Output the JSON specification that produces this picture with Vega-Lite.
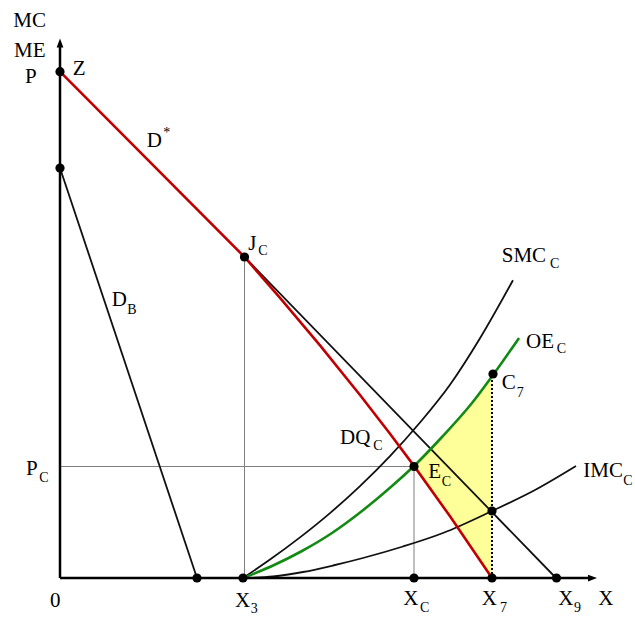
{
  "$schema": "https://vega.github.io/schema/vega-lite/v6.json",
  "width": 575,
  "height": 578,
  "autosize": {"type": "none"},
  "padding": {"left": 60, "top": 0, "right": 0, "bottom": 39},
  "background": "white",
  "config": {"view": {"stroke": null}},
  "datasets": {
    "fill": [
      {"x": 354, "y": 112.1, "y2": 112.1},
      {"x": 370, "y": 89.7, "y2": 128.6},
      {"x": 382, "y": 72.9, "y2": 141},
      {"x": 390, "y": 61.7, "y2": 150},
      {"x": 412, "y": 30.3, "y2": 175},
      {"x": 432, "y": 0, "y2": 202}
    ],
    "segs": [
      {"s": "grid", "x": 184.5, "y": 0, "x2": 184.5, "y2": 321},
      {"s": "grid", "x": 0, "y": 111.5, "x2": 354, "y2": 111.5},
      {"s": "grid", "x": 354, "y": 0, "x2": 354, "y2": 111.5},
      {"s": "dot", "x": 432, "y": 0, "x2": 432, "y2": 204},
      {"s": "axis", "x": 0, "y": 0, "x2": 0, "y2": 532},
      {"s": "axis", "x": 0, "y": 0, "x2": 531, "y2": 0}
    ],
    "curves": [
      {"c": "Dstar", "x": 0, "y": 506.3},
      {"c": "Dstar", "x": 184.5, "y": 321},
      {"c": "Dstar", "x": 220, "y": 280.2},
      {"c": "Dstar", "x": 260, "y": 232.6},
      {"c": "Dstar", "x": 300, "y": 183},
      {"c": "Dstar", "x": 330, "y": 144.3},
      {"c": "Dstar", "x": 354, "y": 112.1},
      {"c": "Dstar", "x": 390, "y": 61.7},
      {"c": "Dstar", "x": 432, "y": 0},
      {"c": "D", "x": 184.5, "y": 321},
      {"c": "D", "x": 496, "y": 0},
      {"c": "DB", "x": 0, "y": 410},
      {"c": "DB", "x": 137, "y": 0},
      {"c": "SMC", "x": 183, "y": 0},
      {"c": "SMC", "x": 210, "y": 18.4},
      {"c": "SMC", "x": 240, "y": 40.6},
      {"c": "SMC", "x": 270, "y": 64.9},
      {"c": "SMC", "x": 300, "y": 91.9},
      {"c": "SMC", "x": 330, "y": 121.9},
      {"c": "SMC", "x": 360, "y": 155.5},
      {"c": "SMC", "x": 390, "y": 193.3},
      {"c": "SMC", "x": 420, "y": 239.8},
      {"c": "SMC", "x": 453, "y": 297.8},
      {"c": "IMC", "x": 183, "y": 0},
      {"c": "IMC", "x": 213, "y": 1.5},
      {"c": "IMC", "x": 243, "y": 6},
      {"c": "IMC", "x": 273, "y": 12.5},
      {"c": "IMC", "x": 303, "y": 20},
      {"c": "IMC", "x": 343, "y": 31.5},
      {"c": "IMC", "x": 383, "y": 45},
      {"c": "IMC", "x": 432, "y": 67},
      {"c": "IMC", "x": 475, "y": 88},
      {"c": "IMC", "x": 516, "y": 112},
      {"c": "OE", "x": 183, "y": 0},
      {"c": "OE", "x": 212, "y": 12},
      {"c": "OE", "x": 242, "y": 27},
      {"c": "OE", "x": 272, "y": 45},
      {"c": "OE", "x": 302, "y": 67},
      {"c": "OE", "x": 332, "y": 92},
      {"c": "OE", "x": 354, "y": 112},
      {"c": "OE", "x": 382, "y": 141},
      {"c": "OE", "x": 412, "y": 175},
      {"c": "OE", "x": 433, "y": 203},
      {"c": "OE", "x": 459, "y": 240}
    ],
    "arrows": [
      {"dir": "up", "x": 0, "y": 535},
      {"dir": "right", "x": 532.5, "y": 0}
    ],
    "points": [
      {"p": "Z", "x": 0, "y": 506.3},
      {"p": "DBtop", "x": 0, "y": 410},
      {"p": "DBbottom", "x": 137, "y": 0},
      {"p": "X3", "x": 183, "y": 0},
      {"p": "JC", "x": 184.5, "y": 321},
      {"p": "EC", "x": 354, "y": 111.5},
      {"p": "XC", "x": 354, "y": 0},
      {"p": "X7", "x": 432, "y": 0},
      {"p": "C7", "x": 433, "y": 204},
      {"p": "IMC7", "x": 432, "y": 67},
      {"p": "X9", "x": 496.5, "y": 0}
    ],
    "labels": [
      {"t": "MC", "x": -46.7, "y": 551.3},
      {"t": "ME", "x": -46, "y": 521.3},
      {"t": "P", "x": -35, "y": 494.7},
      {"t": "Z", "x": 12.7, "y": 503},
      {"t": "D", "x": 86.7, "y": 431.3},
      {"t": "J", "x": 188.3, "y": 328},
      {"t": "D", "x": 51.7, "y": 272},
      {"t": "SMC", "x": 441.7, "y": 316.3},
      {"t": "OE", "x": 466, "y": 229.7},
      {"t": "C", "x": 441.7, "y": 188.7},
      {"t": "DQ", "x": 280, "y": 134},
      {"t": "E", "x": 368.3, "y": 99.7},
      {"t": "IMC", "x": 523.3, "y": 101.3},
      {"t": "P", "x": -34, "y": 103},
      {"t": "0", "x": -10, "y": -28.7},
      {"t": "X", "x": 175, "y": -28.7},
      {"t": "X", "x": 343.3, "y": -27},
      {"t": "X", "x": 421.7, "y": -27},
      {"t": "X", "x": 498.3, "y": -27},
      {"t": "X", "x": 538.3, "y": -27}
    ],
    "subs": [
      {"t": "*", "x": 103.3, "y": 441},
      {"t": "C", "x": 198.3, "y": 323},
      {"t": "B", "x": 67.3, "y": 263.7},
      {"t": "C", "x": 490, "y": 309.7},
      {"t": "C", "x": 496.7, "y": 224.7},
      {"t": "7", "x": 456.7, "y": 181.3},
      {"t": "C", "x": 313.3, "y": 128},
      {"t": "C", "x": 381.7, "y": 92},
      {"t": "C", "x": 563.3, "y": 93},
      {"t": "C", "x": -20.7, "y": 96.3},
      {"t": "3", "x": 190.7, "y": -35.3},
      {"t": "C", "x": 360, "y": -33.7},
      {"t": "7", "x": 440, "y": -33.7},
      {"t": "9", "x": 514, "y": -33.7}
    ]
  },
  "encoding": {
    "x": {"field": "x", "type": "quantitative", "scale": {"domain": [0, 575], "nice": false, "zero": false}, "axis": null},
    "y": {"field": "y", "type": "quantitative", "scale": {"domain": [0, 578], "nice": false, "zero": false}, "axis": null}
  },
  "layer": [
    {
      "data": {"name": "fill"},
      "mark": {"type": "area", "color": "#ffff99", "opacity": 1},
      "encoding": {"y2": {"field": "y2"}}
    },
    {
      "data": {"name": "segs"},
      "transform": [{"filter": "datum.s === 'grid'"}],
      "mark": {"type": "rule", "color": "#7f7f7f", "strokeWidth": 1},
      "encoding": {"x2": {"field": "x2"}, "y2": {"field": "y2"}}
    },
    {
      "data": {"name": "segs"},
      "transform": [{"filter": "datum.s === 'dot'"}],
      "mark": {"type": "rule", "color": "#000000", "strokeWidth": 2, "strokeDash": [2, 2]},
      "encoding": {"x2": {"field": "x2"}, "y2": {"field": "y2"}}
    },
    {
      "data": {"name": "curves"},
      "transform": [{"filter": "datum.c === 'D' || datum.c === 'DB' || datum.c === 'SMC' || datum.c === 'IMC'"}],
      "mark": {"type": "line", "color": "#111111", "strokeWidth": 1.8, "interpolate": "monotone"},
      "encoding": {"detail": {"field": "c"}}
    },
    {
      "data": {"name": "curves"},
      "transform": [{"filter": "datum.c === 'OE'"}],
      "mark": {"type": "line", "color": "#138a13", "strokeWidth": 2.6, "interpolate": "monotone"},
      "encoding": {}
    },
    {
      "data": {"name": "curves"},
      "transform": [{"filter": "datum.c === 'Dstar'"}],
      "mark": {"type": "line", "color": "#c00000", "strokeWidth": 2.6, "interpolate": "linear"},
      "encoding": {}
    },
    {
      "data": {"name": "segs"},
      "transform": [{"filter": "datum.s === 'axis'"}],
      "mark": {"type": "rule", "color": "#000000", "strokeWidth": 2.5},
      "encoding": {"x2": {"field": "x2"}, "y2": {"field": "y2"}}
    },
    {
      "data": {"name": "arrows"},
      "transform": [{"filter": "datum.dir === 'up'"}],
      "mark": {"type": "point", "shape": "M0,-1L0.75,1L-0.75,1Z", "size": 81, "filled": true, "color": "#000000", "opacity": 1}
    },
    {
      "data": {"name": "arrows"},
      "transform": [{"filter": "datum.dir === 'right'"}],
      "mark": {"type": "point", "shape": "M1,0L-1,0.75L-1,-0.75Z", "size": 81, "filled": true, "color": "#000000", "opacity": 1}
    },
    {
      "data": {"name": "points"},
      "mark": {"type": "circle", "size": 85, "color": "#000000", "opacity": 1}
    },
    {
      "data": {"name": "labels"},
      "mark": {"type": "text", "font": "'Liberation Serif', 'Times New Roman', 'DejaVu Serif', serif", "fontSize": 21, "align": "left", "baseline": "alphabetic", "color": "#000000"},
      "encoding": {"text": {"field": "t"}}
    },
    {
      "data": {"name": "subs"},
      "mark": {"type": "text", "font": "'Liberation Serif', 'Times New Roman', 'DejaVu Serif', serif", "fontSize": 14, "align": "left", "baseline": "alphabetic", "color": "#000000"},
      "encoding": {"text": {"field": "t"}}
    }
  ]
}
